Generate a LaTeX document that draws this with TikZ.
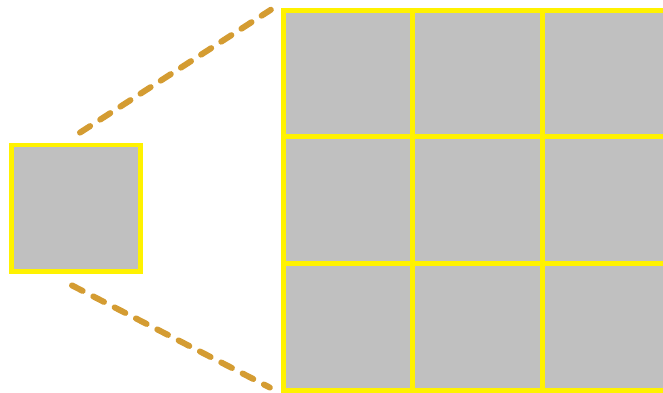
\documentclass[tikz,border=0pt]{standalone}
\usetikzlibrary{positioning}
\definecolor{cellgray}{RGB}{192,192,192}
\definecolor{linkgold}{RGB}{212,156,50}
\tikzset{
  cell/.style = {rectangle, draw=yellow, fill=cellgray, line width=4.8pt,
                 minimum width=129.5pt, minimum height=126.7pt, inner sep=0pt},
  link/.style = {draw=linkgold, line width=6pt, line cap=round,
                 dash pattern=on 12pt off 12pt},
}
\begin{document}
\begin{tikzpicture}[x=1pt, y=1pt]
  \clip (0,0) rectangle (663,392);

  % ---- single patch (left) ----
  \node[cell, minimum width=129pt, minimum height=126.5pt] (patch) at (76,183.75) {};

  % ---- 3x3 grid (right) ----
  \foreach \r/\y in {1/318.5, 2/191.8, 3/65.2}{
    \foreach \c/\x in {1/348, 2/477.5, 3/607}{
      \node[cell] (cell-\r-\c) at (\x,\y) {};
    }
  }

  % ---- zoom lines ----
  \draw[link] ([shift={(4pt,10pt)}]patch.north) -- ([shift={(-10pt,-2pt)}]cell-1-1.north west);
  \draw[link] ([shift={(-4pt,-11.5pt)}]patch.south) -- ([shift={(-11pt,5pt)}]cell-3-1.south west);
\end{tikzpicture}
\end{document}
